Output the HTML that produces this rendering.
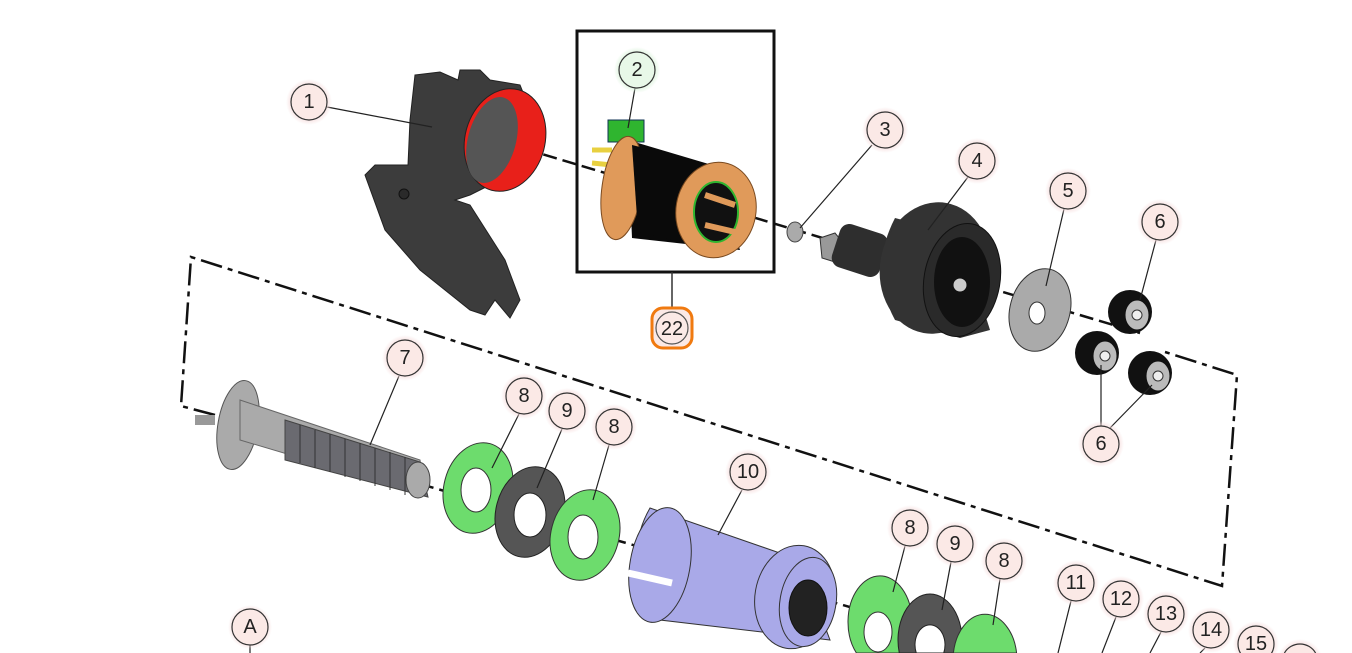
<!DOCTYPE html>
<html><head><meta charset="utf-8"><style>
html,body{margin:0;padding:0;background:#fff;width:1352px;height:653px;overflow:hidden;}
svg{display:block;overflow:hidden;}
text{font-family:"Liberation Sans",sans-serif;font-size:20px;text-anchor:middle;dominant-baseline:central;fill:#222;}
</style></head><body>
<svg width="1352" height="653" viewBox="0 0 1352 653" xmlns="http://www.w3.org/2000/svg">
<defs>
<radialGradient id="halo"><stop offset="0.7" stop-color="#f6dcdc"/><stop offset="1" stop-color="#f6dcdc" stop-opacity="0"/></radialGradient>
<radialGradient id="halo2" cx="1256" cy="644" r="23" gradientUnits="userSpaceOnUse"><stop offset="0.7" stop-color="#f6dcdc"/><stop offset="1" stop-color="#f6dcdc" stop-opacity="0"/></radialGradient>
<radialGradient id="halo3" cx="1300" cy="662" r="23" gradientUnits="userSpaceOnUse"><stop offset="0.7" stop-color="#f6dcdc"/><stop offset="1" stop-color="#f6dcdc" stop-opacity="0"/></radialGradient>
<radialGradient id="haloG"><stop offset="0.7" stop-color="#d8f2d8"/><stop offset="1" stop-color="#d8f2d8" stop-opacity="0"/></radialGradient>
</defs>

<g fill="none" stroke="#111" stroke-width="2.5" stroke-dasharray="22,6,5,6">
<path d="M215,415 L181,406 L191,257 L1222,586 L1237,375 L1165,352"/>
</g>

<line x1="505" y1="143" x2="1140" y2="333" stroke="#111" stroke-width="2.5" stroke-dasharray="14,6"/>
<line x1="420" y1="484" x2="1000" y2="650" stroke="#111" stroke-width="2.5" stroke-dasharray="14,6"/>

<path d="M415,75 L440,72 L458,80 L460,70 L480,70 L490,80 L520,85 L530,110 L500,180 L470,195 L455,200 L470,205 L505,260 L520,300 L510,318 L495,300 L485,315 L470,310 L420,270 L385,230 L365,175 L375,165 L408,165 L410,120 Z" fill="#3c3c3c" stroke="#222"/>
<ellipse cx="505" cy="140" rx="40" ry="52" transform="rotate(15 505 140)" fill="#e8201a" stroke="#222"/>
<ellipse cx="492" cy="140" rx="24" ry="44" transform="rotate(15 492 140)" fill="#555"/>
<circle cx="404" cy="194" r="5" fill="#2a2a2a" stroke="#111"/>

<rect x="577" y="31" width="197" height="241" fill="none" stroke="#111" stroke-width="3"/>
<line x1="672" y1="272" x2="672" y2="310" stroke="#333" stroke-width="1.5"/>
<path d="M592,150 L612,150 M592,163 L612,165" stroke="#e8d040" stroke-width="5"/>
<rect x="608" y="120" width="36" height="22" fill="#2fb52f" stroke="#135"/>
<path d="M628,140 L712,165 L740,250 L632,238 Z" fill="#0a0a0a"/>
<ellipse cx="622" cy="188" rx="20" ry="52" transform="rotate(8 622 188)" fill="#e09a5a" stroke="#7a4a20"/>
<path d="M632,145 L712,165 L725,252 L638,232 Z" fill="#0a0a0a"/>
<ellipse cx="716" cy="210" rx="40" ry="48" transform="rotate(10 716 210)" fill="#e09a5a" stroke="#7a4a20"/>
<ellipse cx="716" cy="212" rx="22" ry="30" fill="#111" stroke="#2fb52f" stroke-width="2"/>
<path d="M705,195 L735,205 M705,225 L735,232" stroke="#e09a5a" stroke-width="6"/>

<ellipse cx="795" cy="232" rx="8" ry="10" fill="#aaa" stroke="#444"/>
<path d="M820,238 L835,233 L845,245 L835,262 L822,258 Z" fill="#999" stroke="#333"/>
<rect x="835" y="228" width="50" height="45" rx="10" fill="#2e2e2e" transform="rotate(18 860 250)"/>
<path d="M895,218 L960,235 L990,330 L960,338 L895,320 Q868,270 895,218 Z" fill="#333"/>
<ellipse cx="935" cy="268" rx="55" ry="66" transform="rotate(10 935 268)" fill="#333"/>
<ellipse cx="962" cy="280" rx="38" ry="57" transform="rotate(10 962 280)" fill="#2a2a2a" stroke="#111"/>
<ellipse cx="962" cy="282" rx="28" ry="45" fill="#111"/>
<circle cx="960" cy="285" r="7" fill="#ccc" stroke="#111"/>
<ellipse cx="1040" cy="310" rx="30" ry="42" transform="rotate(15 1040 310)" fill="#aaa" stroke="#333"/>
<ellipse cx="1037" cy="313" rx="8" ry="11" fill="#fff" stroke="#333"/>
<ellipse cx="1130" cy="312" rx="22" ry="22" fill="#111"/><ellipse cx="1137" cy="315" rx="12" ry="15" fill="#bbb" stroke="#111"/><circle cx="1137" cy="315" r="5" fill="#eee" stroke="#333"/>
<ellipse cx="1097" cy="353" rx="22" ry="22" fill="#111"/><ellipse cx="1105" cy="356" rx="12" ry="15" fill="#bbb" stroke="#111"/><circle cx="1105" cy="356" r="5" fill="#eee" stroke="#333"/>
<ellipse cx="1150" cy="373" rx="22" ry="22" fill="#111"/><ellipse cx="1158" cy="376" rx="12" ry="15" fill="#bbb" stroke="#111"/><circle cx="1158" cy="376" r="5" fill="#eee" stroke="#333"/>

<ellipse cx="238" cy="425" rx="20" ry="45" transform="rotate(10 238 425)" fill="#aaa" stroke="#555"/>
<rect x="195" y="415" width="20" height="10" fill="#999"/>
<path d="M240,400 L420,460 L425,495 L240,440 Z" fill="#aaa" stroke="#666"/>
<path d="M285,420 L420,462 L428,497 L285,460 Z" fill="#6a6a70" stroke="#444"/>
<path d="M300,425 v38 M315,430 v38 M330,434 v38 M345,439 v38 M360,443 v38 M375,448 v38 M390,452 v38 M405,457 v38" stroke="#333" stroke-width="1"/>
<ellipse cx="418" cy="480" rx="12" ry="18" fill="#aaa" stroke="#444"/>

<ellipse cx="478" cy="488" rx="34" ry="46" transform="rotate(15 478 488)" fill="#6ddc6d" stroke="#333"/>
<ellipse cx="476" cy="490" rx="15" ry="22" fill="#fff" stroke="#333"/>
<ellipse cx="530" cy="512" rx="34" ry="46" transform="rotate(15 530 512)" fill="#555" stroke="#222"/>
<ellipse cx="530" cy="515" rx="16" ry="22" fill="#fff" stroke="#222"/>
<ellipse cx="585" cy="535" rx="34" ry="46" transform="rotate(15 585 535)" fill="#6ddc6d" stroke="#333"/>
<ellipse cx="583" cy="537" rx="15" ry="22" fill="#fff" stroke="#333"/>

<path d="M650,508 L800,560 L830,640 L660,620 Q620,560 650,508 Z" fill="#a9a9e8" stroke="#333"/>
<ellipse cx="660" cy="565" rx="30" ry="58" transform="rotate(10 660 565)" fill="#a9a9e8" stroke="#333"/>
<path d="M628,573 L672,583" stroke="#fff" stroke-width="7"/>
<ellipse cx="795" cy="597" rx="40" ry="52" transform="rotate(10 795 597)" fill="#a9a9e8" stroke="#333"/>
<ellipse cx="808" cy="602" rx="28" ry="45" transform="rotate(10 808 602)" fill="#a9a9e8" stroke="#333"/>
<ellipse cx="808" cy="608" rx="19" ry="28" fill="#222" stroke="#111"/>

<!-- lower washers, cut at frame bottom -->
<path d="M856.4,653 A32,46 0 1 1 903.6,653 Z" fill="#6ddc6d" stroke="#333"/>
<ellipse cx="878" cy="632" rx="14" ry="20" fill="#fff" stroke="#333"/>
<path d="M899.3,653 A32,46 0 1 1 960.7,653 Z" fill="#555" stroke="#222"/>
<path d="M916.3,653 A15,20 0 1 1 943.7,653 Z" fill="#fff" stroke="#222"/>
<path d="M953.4,653 A32,46 0 0 1 1016.6,653 Z" fill="#6ddc6d" stroke="#333"/>

<g stroke="#222" stroke-width="1.2" fill="none">
<line x1="327" y1="107" x2="432" y2="127"/>
<line x1="635" y1="88" x2="628" y2="128"/>
<line x1="872" y1="145" x2="800" y2="228"/>
<line x1="968" y1="177" x2="928" y2="230"/>
<line x1="1064" y1="209" x2="1046" y2="286"/>
<line x1="1156" y1="240" x2="1140" y2="300"/>
<line x1="1101" y1="426" x2="1101" y2="365"/>
<line x1="1110" y1="428" x2="1152" y2="385"/>
<line x1="399" y1="376" x2="370" y2="445"/>
<line x1="519" y1="414" x2="492" y2="468"/>
<line x1="562" y1="429" x2="537" y2="488"/>
<line x1="609" y1="445" x2="593" y2="500"/>
<line x1="742" y1="490" x2="718" y2="535"/>
<line x1="905" y1="546" x2="893" y2="592"/>
<line x1="951" y1="562" x2="942" y2="610"/>
<line x1="1000" y1="579" x2="993" y2="625"/>
<line x1="1071" y1="601" x2="1058" y2="653"/>
<line x1="1116" y1="617" x2="1102" y2="653"/>
<line x1="1161" y1="632" x2="1150" y2="653"/>
<line x1="1205" y1="648" x2="1200" y2="653"/>
<line x1="250" y1="645" x2="250" y2="653"/>
</g>

<g stroke="#333" stroke-width="1.2">
<g fill="url(#halo)" stroke="none">
<circle cx="309" cy="102" r="23"/><circle cx="885" cy="130" r="23"/><circle cx="977" cy="161" r="23"/><circle cx="1068" cy="191" r="23"/><circle cx="1160" cy="222" r="23"/><circle cx="1101" cy="444" r="23"/><circle cx="405" cy="358" r="23"/><circle cx="524" cy="396" r="23"/><circle cx="567" cy="411" r="23"/><circle cx="614" cy="427" r="23"/><circle cx="748" cy="472" r="23"/><circle cx="910" cy="528" r="23"/><circle cx="955" cy="544" r="23"/><circle cx="1004" cy="561" r="23"/><circle cx="1076" cy="583" r="23"/><circle cx="1121" cy="599" r="23"/><circle cx="1166" cy="614" r="23"/><circle cx="1211" cy="630" r="23"/><circle cx="250" cy="627" r="22"/>
</g>
<path d="M1234.8,653 A23,23 0 1 1 1277.2,653 Z" fill="url(#halo2)" stroke="none"/>
<path d="M1278.8,653 A23,23 0 0 1 1321.2,653 Z" fill="url(#halo3)" stroke="none"/>
<circle cx="637" cy="70" r="23" fill="url(#haloG)" stroke="none"/>
<g fill="#fbe9e6">
<circle cx="309" cy="102" r="18"/><circle cx="885" cy="130" r="18"/><circle cx="977" cy="161" r="18"/><circle cx="1068" cy="191" r="18"/><circle cx="1160" cy="222" r="18"/><circle cx="1101" cy="444" r="18"/><circle cx="405" cy="358" r="18"/><circle cx="524" cy="396" r="18"/><circle cx="567" cy="411" r="18"/><circle cx="614" cy="427" r="18"/><circle cx="748" cy="472" r="18"/><circle cx="910" cy="528" r="18"/><circle cx="955" cy="544" r="18"/><circle cx="1004" cy="561" r="18"/><circle cx="1076" cy="583" r="18"/><circle cx="1121" cy="599" r="18"/><circle cx="1166" cy="614" r="18"/><circle cx="1211" cy="630" r="18"/><circle cx="1256" cy="644" r="18"/><circle cx="250" cy="627" r="18"/>
<path d="M1284.4,653 A18,18 0 0 1 1315.6,653"/>
</g>
<circle cx="637" cy="70" r="18" fill="#e8f8e8"/>
<rect x="652" y="308" width="40" height="40" rx="11" fill="#fbe9e6" stroke="#f07a10" stroke-width="3"/>
<circle cx="672" cy="328" r="16" fill="none" stroke="#555"/>
</g>
<text x="309" y="102">1</text><text x="637" y="70">2</text><text x="885" y="130">3</text><text x="977" y="161">4</text><text x="1068" y="191">5</text><text x="1160" y="222">6</text><text x="1101" y="444">6</text><text x="405" y="358">7</text><text x="524" y="396">8</text><text x="567" y="411">9</text><text x="614" y="427">8</text><text x="748" y="472">10</text><text x="910" y="528">8</text><text x="955" y="544">9</text><text x="1004" y="561">8</text><text x="1076" y="583">11</text><text x="1121" y="599">12</text><text x="1166" y="614">13</text><text x="1211" y="630">14</text><text x="1256" y="644">15</text><text x="250" y="627">A</text><text x="672" y="329">22</text>
</svg>
</body></html>
